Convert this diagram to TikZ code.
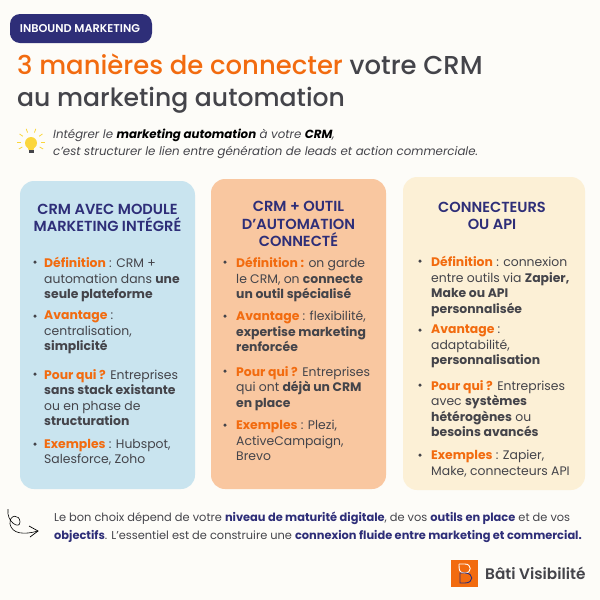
\documentclass[tikz,border=0pt]{standalone}
\usepackage{fontspec}
\usetikzlibrary{calc}
\setmainfont{Poppins}
\newfontfamily\ttlfont{Poppins Medium}
\newfontfamily\semifont{Poppins SemiBold}
\definecolor{bgc}{HTML}{FDFCF8}
\definecolor{navy}{HTML}{2E2E78}
\definecolor{org}{HTML}{F26B0F}
\definecolor{txt}{HTML}{44444A}
\definecolor{cblue}{HTML}{C9E4EF}
\definecolor{corg}{HTML}{F9C7A0}
\definecolor{cyel}{HTML}{FCF0D6}
\definecolor{bulb}{HTML}{FBD63C}
\newcommand{\B}[1]{\textbf{#1}}
\newcommand{\Or}[1]{\textcolor{org}{\textbf{#1}}}
\newcommand{\Nv}[1]{\textcolor{navy}{\textbf{#1}}}
\lineskiplimit=-10pt
\tikzset{x=1pt,y=-1pt,
 card/.style={rounded corners=14pt},
 head/.style={anchor=center,align=center,text=navy,font=\fontsize{14.6}{17.2}\selectfont\semifont,inner sep=0pt},
 item/.style={anchor=north west,align=left,text=txt,font=\fontsize{12.4}{15.5}\selectfont,inner sep=0pt},
 dotb/.style={circle,fill=txt,minimum size=3.5pt,inner sep=0pt},
 foot/.style={anchor=west,text=txt,font=\fontsize{11.4}{14}\selectfont,inner sep=0pt},
 ttl/.style={anchor=west,text=txt,inner sep=0pt},
 intro/.style={anchor=west,text=txt,font=\fontsize{11.8}{14}\selectfont\itshape,inner sep=0pt}}
\begin{document}
\begin{tikzpicture}
\useasboundingbox (0,0) rectangle (600,600);
\fill[bgc] (0,0) rectangle (600,600);
\fill[navy] (10,43) -- (10,35) [rounded corners=10pt] -- (10,14) -- (152,14) -- (152,43) -- cycle;
\node[anchor=center,text=white,font=\fontsize{11.3}{12}\selectfont\semifont,inner sep=0pt] (tag) at (80,29) {INBOUND MARKETING};
\node[ttl,font=\fontsize{25.9}{32}\selectfont\ttlfont] (t1) at (17,64) {\textcolor{org}{3 manières de connecter} votre CRM};
\node[ttl,font=\fontsize{25.1}{32}\selectfont\ttlfont] (t2) at (17,100) {au marketing automation};
% bulb
\fill[bulb] (31,143) circle (6);
\fill[bulb] (27.5,146) -- (34.5,146) -- (33.5,150) -- (28.5,150) -- cycle;
\fill[txt] (28.5,150) rectangle (33.5,153);
\foreach \a in {180,215,250,290,325,0,150,30}{\draw[bulb,line width=.8pt] ($(31,142)+(\a:10)$) -- ($(31,142)+(\a:14)$);}
\node[intro] (i1) at (53,135) {Intégrer le \textcolor{black}{\textbf{marketing automation}} à votre \textcolor{black}{\textbf{CRM}},};
\node[intro] (i2) at (53,152.5) {c’est structurer le lien entre génération de leads et action commerciale.};
% cards
\fill[cblue,card] (20,181) rectangle (195,489);
\fill[corg,card] (211,179) rectangle (386,489);
\fill[cyel,card] (403,177) rectangle (585,490);
\node[head] (h1) at (107.5,218) {CRM AVEC MODULE\\MARKETING INTÉGRÉ};
\node[head] (h2) at (298.5,224) {CRM + OUTIL\\D’AUTOMATION\\CONNECTÉ};
\node[head] (h3) at (492,216) {CONNECTEURS\\OU API};
% card 1
\node[item] (a1) at (44,257) {\Or{Définition} : CRM +\\automation dans \B{une}\\\B{seule plateforme}};
\node[item] (a2) at (44,311) {\Or{Avantage} :\\centralisation,\\\B{simplicité}};
\node[item] (a3) at (44,369) {\Or{Pour qui ?} Entreprises\\\B{sans stack existante}\\ou en phase de\\\B{structuration}};
\node[item] (a4) at (44,439) {\Or{Exemples} : Hubspot,\\Salesforce, Zoho};
\foreach \y in {262,316,374,444} \node[dotb] at (35,\y) {};
% card 2
\node[item] (b1) at (236,257) {\Or{Définition :} on garde\\le CRM, on \B{connecte}\\\B{un outil spécialisé}};
\node[item] (b2) at (236,311) {\Or{Avantage} : flexibilité,\\\B{expertise marketing}\\\B{renforcée}};
\node[item] (b3) at (236,366) {\Or{Pour qui ?} Entreprises\\qui ont \B{déjà un CRM}\\\B{en place}};
\node[item] (b4) at (236,420) {\Or{Exemples} : Plezi,\\ActiveCampaign,\\Brevo};
\foreach \y in {262,316,371,425} \node[dotb] at (225,\y) {};
% card 3
\node[item] (c1) at (431,256) {\Or{Définition} : connexion\\entre outils via \B{Zapier,}\\\B{Make ou API}\\\B{personnalisée}};
\node[item] (c2) at (431,325) {\Or{Avantage} :\\adaptabilité,\\\B{personnalisation}};
\node[item] (c3) at (431,380) {\Or{Pour qui ?} Entreprises\\avec \B{systèmes}\\\B{hétérogènes} ou\\\B{besoins avancés}};
\node[item] (c4) at (431,450) {\Or{Exemples} : Zapier,\\Make, connecteurs API};
\foreach \y in {261,330,385,455} \node[dotb] at (420,\y) {};
% footer
\node[foot] (f1) at (54,518) {Le bon choix dépend de votre \Nv{niveau de maturité digitale}, de vos \Nv{outils en place} et de vos};
\node[foot] (f2) at (54,536) {\Nv{objectifs}. L’essentiel est de construire une \Nv{connexion fluide entre marketing et commercial.}};
\draw[black,line width=.6pt] (8,509) .. controls (6,522) and (20,530) .. (20,522) .. controls (20,514) and (9,514) .. (10,524) .. controls (12,534) and (24,535) .. (38,531);
\draw[black,line width=.7pt] (29,526) -- (38,531) -- (30,537);
% logo
\fill[org] (451,560) rectangle (478,587);
\draw[white,line width=.9pt] (459,564) -- (465,564) .. controls (472,564) and (472,573) .. (465,573) .. controls (459,573) and (459,570) .. (459,564);
\draw[navy,line width=.9pt] (460,573) -- (465,573) .. controls (474,573) and (474,583) .. (465,583) -- (460,583) -- cycle;
\node[anchor=west,text=txt,font=\fontsize{15.3}{18}\selectfont\semifont,inner sep=0pt] (logo) at (485,573) {Bâti Visibilité};
\end{tikzpicture}
\end{document}
